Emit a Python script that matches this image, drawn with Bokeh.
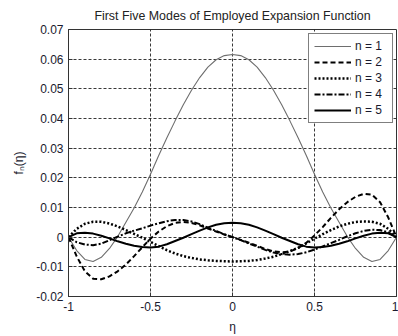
import numpy as np
from bokeh.plotting import figure
from bokeh.models import Range1d, FixedTicker, Legend, LegendItem
from bokeh.embed import file_html
from bokeh.resources import INLINE

# sample positions along eta
eta = np.linspace(-1.0, 1.0, 41)

mode_1 = [0, -0.0045, -0.0075, -0.0082, -0.0068, -0.0038, 0.0002, 0.0050, 0.0098, 0.0152,
          0.0212, 0.0275, 0.0335, 0.0392, 0.0446, 0.0495, 0.0538, 0.0573, 0.0598, 0.0612,
          0.0616,
          0.0612, 0.0598, 0.0573, 0.0538, 0.0495, 0.0446, 0.0392, 0.0335, 0.0275, 0.0212,
          0.0152, 0.0098, 0.0050, 0.0002, -0.0038, -0.0068, -0.0082, -0.0075, -0.0045, 0]
mode_2 = [0, -0.0065, -0.0115, -0.0140, -0.0142, -0.0132, -0.0115, -0.0092, -0.0064, -0.0034,
          -0.0005, 0.0019, 0.0037, 0.0048, 0.0051, 0.0048, 0.0040, 0.0029, 0.0019, 0.0009,
          0.0,
          -0.0009, -0.0019, -0.0029, -0.0040, -0.0048, -0.0051, -0.0048, -0.0037, -0.0019, 0.0006,
          0.0034, 0.0065, 0.0094, 0.0118, 0.0136, 0.0146, 0.0143, 0.0118, 0.0066, 0]
mode_3 = [0, 0.0028, 0.0045, 0.0052, 0.0052, 0.0046, 0.0036, 0.0024, 0.0011, -0.0002,
          -0.0016, -0.0030, -0.0044, -0.0055, -0.0064, -0.0070, -0.0075, -0.0078, -0.0080, -0.0081,
          -0.0082,
          -0.0081, -0.0080, -0.0077, -0.0072, -0.0066, -0.0057, -0.0047, -0.0036, -0.0021, -0.0005,
          0.0010, 0.0024, 0.0036, 0.0045, 0.0051, 0.0053, 0.0052, 0.0045, 0.0028, 0]
mode_4 = [0, -0.0017, -0.0025, -0.0027, -0.0022, -0.0010, 0.0002, 0.0013, 0.0022, 0.0030,
          0.0039, 0.0047, 0.0054, 0.0058, 0.0058, 0.0053, 0.0044, 0.0032, 0.0021, 0.0010,
          0.0,
          -0.0010, -0.0021, -0.0032, -0.0043, -0.0052, -0.0057, -0.0059, -0.0057, -0.0051, -0.0042,
          -0.0031, -0.0020, -0.0009, 0.0003, 0.0013, 0.0021, 0.0025, 0.0024, 0.0016, 0]
mode_5 = [0, 0.0013, 0.0015, 0.0012, 0.0005, -0.0004, -0.0014, -0.0022, -0.0029, -0.0033,
          -0.0035, -0.0032, -0.0024, -0.0013, -0.0002, 0.0010, 0.0022, 0.0033, 0.0042, 0.0047,
          0.0049,
          0.0047, 0.0042, 0.0033, 0.0022, 0.0010, -0.0002, -0.0013, -0.0024, -0.0032, -0.0035,
          -0.0033, -0.0029, -0.0022, -0.0014, -0.0004, 0.0005, 0.0012, 0.0015, 0.0013, 0]

labels = ["n = 1", "n = 2", "n = 3", "n = 4", "n = 5"]

x_ticks = [-1, -0.5, 0, 0.5, 1]
x_tick_labels = ["-1", "-0.5", "0", "0.5", "1"]
y_ticks = [-0.02, -0.01, 0, 0.01, 0.02, 0.03, 0.04, 0.05, 0.06, 0.07]
y_tick_labels = ["-0.02", "-0.01", "0", "0.01", "0.02", "0.03", "0.04", "0.05", "0.06", "0.07"]

FONT = "Liberation Sans"
INK = "#1a1a2e"

p = figure(width=398, height=336, output_backend="svg", toolbar_location=None,
           x_range=Range1d(-1, 1), y_range=Range1d(-0.02, 0.07),
           min_border_left=68, min_border_right=2, min_border_top=10, min_border_bottom=36)

p.title.text = "First Five Modes of Employed Expansion Function"
p.title.align = "center"
p.title.text_font = FONT
p.title.text_font_size = "12.4px"
p.title.text_font_style = "normal"
p.title.text_color = "#222222"
p.title.standoff = 13

p.background_fill_color = "white"
p.border_fill_color = "white"
p.outline_line_color = "#333333"
p.outline_line_width = 1

for ax in (p.xaxis[0], p.yaxis[0]):
    ax.axis_line_color = "#333333"
    ax.major_tick_in = 4
    ax.major_tick_out = 0
    ax.minor_tick_line_color = None
    ax.major_tick_line_color = "#333333"
    ax.major_label_text_font = FONT
    ax.major_label_text_font_size = "12px"
    ax.major_label_text_color = INK
    ax.axis_label_text_font = FONT
    ax.axis_label_text_font_size = "12px"
    ax.axis_label_text_font_style = "normal"
    ax.axis_label_text_color = INK

p.xaxis.ticker = FixedTicker(ticks=x_ticks)
p.xaxis.major_label_overrides = dict(zip(x_ticks, x_tick_labels))
p.xaxis.axis_label = "η"
p.xaxis.major_label_standoff = 5
p.xaxis.axis_label_standoff = 6

p.yaxis.ticker = FixedTicker(ticks=y_ticks)
p.yaxis.major_label_overrides = dict(zip(y_ticks, y_tick_labels))
p.yaxis.axis_label = "fₙ(η)"
p.yaxis.major_label_standoff = 5
p.yaxis.axis_label_standoff = 7

for g in (p.xgrid[0], p.ygrid[0]):
    g.grid_line_color = "#222222"
    g.grid_line_dash = "3 2"
    g.grid_line_width = 1
    g.grid_line_alpha = 0.9
p.xgrid.ticker = FixedTicker(ticks=x_ticks)
p.ygrid.ticker = FixedTicker(ticks=y_ticks)

styles = [
    dict(line_color="#6e6e6e", line_width=1.1, line_dash="solid"),
    dict(line_color="black", line_width=2, line_dash="5 3"),
    dict(line_color="black", line_width=2.5, line_dash="2 2"),
    dict(line_color="black", line_width=2, line_dash="6 2 2 2"),
    dict(line_color="black", line_width=2, line_dash="solid"),
]
series = [mode_1, mode_2, mode_3, mode_4, mode_5]

items = []
for lab, ys, st in zip(labels, series, styles):
    r = p.line(eta, ys, **st)
    items.append(LegendItem(label=lab, renderers=[r]))

legend = Legend(items=items, location=(240, 173))
legend.label_text_font = FONT
legend.label_text_font_size = "12px"
legend.label_text_color = INK
legend.border_line_color = "black"
legend.border_line_width = 1
legend.background_fill_color = "white"
legend.background_fill_alpha = 1
legend.glyph_width = 37
legend.glyph_height = 14
legend.label_height = 14
legend.label_width = 32
legend.label_standoff = 4
legend.spacing = 2
legend.padding = 5
legend.margin = 0
p.add_layout(legend)

open("out.html", "w").write(file_html(p, INLINE))
